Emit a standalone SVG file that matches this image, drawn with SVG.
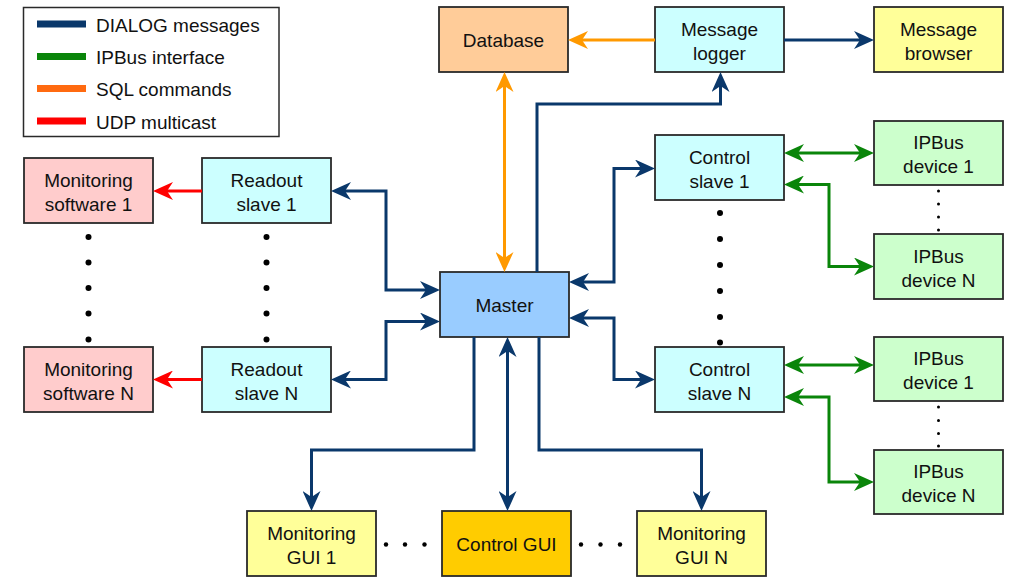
<svg xmlns="http://www.w3.org/2000/svg" width="1020" height="577" viewBox="0 0 1020 577">
  <style>
    .box { stroke: #2a2a2a; stroke-width: 1.8; }
    .lbl { font-family: "Liberation Sans", Arial, sans-serif; font-size: 19px; fill: #111; text-anchor: middle; }
    .leg { font-family: "Liberation Sans", Arial, sans-serif; font-size: 19px; fill: #111; }
    .c { fill: none; stroke-width: 3; stroke-linejoin: miter; }
    .dialog { stroke: #0a386b; }
    .ipbus { stroke: #0a850a; }
    .sql { stroke: #ff9900; }
    .udp { stroke: #ff0000; }
    .dot { fill: #000; }
    .sw { fill: #ffcccc; }
    .slave { fill: #ccffff; }
    .gui { fill: #ffff99; }
    .dev { fill: #ccffcc; }
  </style>
  <defs>
    <marker id="ah-dialog" viewBox="0 0 20 18" markerWidth="20" markerHeight="18" refX="10" refY="9" orient="auto-start-reverse" markerUnits="userSpaceOnUse">
      <path d="M0,0 L20,9 L0,18 L6,9 Z" fill="#0a386b"/>
    </marker>
    <marker id="ah-ipbus" viewBox="0 0 20 18" markerWidth="20" markerHeight="18" refX="10" refY="9" orient="auto-start-reverse" markerUnits="userSpaceOnUse">
      <path d="M0,0 L20,9 L0,18 L6,9 Z" fill="#0a850a"/>
    </marker>
    <marker id="ah-sql" viewBox="0 0 20 18" markerWidth="20" markerHeight="18" refX="10" refY="9" orient="auto-start-reverse" markerUnits="userSpaceOnUse">
      <path d="M0,0 L20,9 L0,18 L6,9 Z" fill="#ff9900"/>
    </marker>
    <marker id="ah-udp" viewBox="0 0 20 18" markerWidth="20" markerHeight="18" refX="10" refY="9" orient="auto-start-reverse" markerUnits="userSpaceOnUse">
      <path d="M0,0 L20,9 L0,18 L6,9 Z" fill="#ff0000"/>
    </marker>
  </defs>

  <rect width="1020" height="577" fill="#ffffff"/>

  <!-- Legend -->
  <g id="legend">
    <rect x="23.5" y="7.5" width="255.5" height="129" fill="#ffffff" stroke="#2a2a2a" stroke-width="1.5"/>
    <line x1="37" y1="24" x2="86" y2="24" stroke="#0a386b" stroke-width="7"/>
    <line x1="37" y1="56.5" x2="86" y2="56.5" stroke="#0a850a" stroke-width="7"/>
    <line x1="37" y1="88.5" x2="86" y2="88.5" stroke="#ff6a10" stroke-width="7"/>
    <line x1="37" y1="121" x2="86" y2="121" stroke="#ff0000" stroke-width="7"/>
    <text class="leg" x="96" y="31.5">DIALOG messages</text>
    <text class="leg" x="96" y="64">IPBus interface</text>
    <text class="leg" x="96" y="96">SQL commands</text>
    <text class="leg" x="96" y="128.5">UDP multicast</text>
  </g>

  <!-- Top row -->
  <g id="database">
    <rect class="box" x="439" y="7" width="129" height="65" fill="#ffcc99"/>
    <text class="lbl" x="503.5" y="46.5">Database</text>
  </g>
  <g id="message-logger">
    <rect class="box slave" x="655" y="7" width="129" height="65"/>
    <text class="lbl" x="719.5" y="35.5">Message</text>
    <text class="lbl" x="719.5" y="59.5">logger</text>
  </g>
  <g id="message-browser">
    <rect class="box gui" x="874" y="7" width="129" height="65"/>
    <text class="lbl" x="938.5" y="35.5">Message</text>
    <text class="lbl" x="938.5" y="59.5">browser</text>
  </g>

  <!-- Monitoring software -->
  <g id="monitoring-software-1">
    <rect class="box sw" x="24" y="158" width="129" height="65"/>
    <text class="lbl" x="88.5" y="186.5">Monitoring</text>
    <text class="lbl" x="88.5" y="210.5">software 1</text>
  </g>
  <g id="monitoring-software-n">
    <rect class="box sw" x="24" y="347" width="129" height="65"/>
    <text class="lbl" x="88.5" y="375.5">Monitoring</text>
    <text class="lbl" x="88.5" y="399.5">software N</text>
  </g>

  <!-- Readout slaves -->
  <g id="readout-slave-1">
    <rect class="box slave" x="202" y="158" width="129" height="65"/>
    <text class="lbl" x="266.5" y="186.5">Readout</text>
    <text class="lbl" x="266.5" y="210.5">slave 1</text>
  </g>
  <g id="readout-slave-n">
    <rect class="box slave" x="202" y="347" width="129" height="65"/>
    <text class="lbl" x="266.5" y="375.5">Readout</text>
    <text class="lbl" x="266.5" y="399.5">slave N</text>
  </g>

  <!-- Master -->
  <g id="master">
    <rect class="box" x="440" y="272" width="129" height="65" fill="#99ccff"/>
    <text class="lbl" x="504.5" y="311.5">Master</text>
  </g>

  <!-- Control slaves -->
  <g id="control-slave-1">
    <rect class="box slave" x="655" y="135" width="129" height="65"/>
    <text class="lbl" x="719.5" y="163.5">Control</text>
    <text class="lbl" x="719.5" y="187.5">slave 1</text>
  </g>
  <g id="control-slave-n">
    <rect class="box slave" x="655" y="347" width="129" height="65"/>
    <text class="lbl" x="719.5" y="375.5">Control</text>
    <text class="lbl" x="719.5" y="399.5">slave N</text>
  </g>

  <!-- IPBus devices -->
  <g id="ipbus-device-1a">
    <rect class="box dev" x="874" y="121" width="129" height="64"/>
    <text class="lbl" x="938.5" y="149">IPBus</text>
    <text class="lbl" x="938.5" y="173">device 1</text>
  </g>
  <g id="ipbus-device-na">
    <rect class="box dev" x="874" y="234" width="129" height="65"/>
    <text class="lbl" x="938.5" y="262.5">IPBus</text>
    <text class="lbl" x="938.5" y="286.5">device N</text>
  </g>
  <g id="ipbus-device-1b">
    <rect class="box dev" x="874" y="337" width="129" height="64"/>
    <text class="lbl" x="938.5" y="365">IPBus</text>
    <text class="lbl" x="938.5" y="389">device 1</text>
  </g>
  <g id="ipbus-device-nb">
    <rect class="box dev" x="874" y="450" width="129" height="64"/>
    <text class="lbl" x="938.5" y="478">IPBus</text>
    <text class="lbl" x="938.5" y="502">device N</text>
  </g>

  <!-- GUIs -->
  <g id="monitoring-gui-1">
    <rect class="box gui" x="247" y="511" width="129" height="65"/>
    <text class="lbl" x="311.5" y="539.5">Monitoring</text>
    <text class="lbl" x="311.5" y="563.5">GUI 1</text>
  </g>
  <g id="control-gui">
    <rect class="box" x="442" y="511" width="129" height="65" fill="#ffcc00"/>
    <text class="lbl" x="506.5" y="550.5">Control GUI</text>
  </g>
  <g id="monitoring-gui-n">
    <rect class="box gui" x="637" y="511" width="129" height="65"/>
    <text class="lbl" x="701.5" y="539.5">Monitoring</text>
    <text class="lbl" x="701.5" y="563.5">GUI N</text>
  </g>

  <!-- Ellipsis dots between repeated nodes -->
  <g id="ellipses">
    <circle class="dot" cx="88.5" cy="237" r="3"/>
    <circle class="dot" cx="88.5" cy="262.5" r="3"/>
    <circle class="dot" cx="88.5" cy="288" r="3"/>
    <circle class="dot" cx="88.5" cy="313.5" r="3"/>
    <circle class="dot" cx="88.5" cy="339.5" r="3"/>
    <circle class="dot" cx="266.5" cy="237" r="3"/>
    <circle class="dot" cx="266.5" cy="262.5" r="3"/>
    <circle class="dot" cx="266.5" cy="288" r="3"/>
    <circle class="dot" cx="266.5" cy="313.5" r="3"/>
    <circle class="dot" cx="266.5" cy="339.5" r="3"/>
    <circle class="dot" cx="720" cy="213" r="3"/>
    <circle class="dot" cx="720" cy="239" r="3"/>
    <circle class="dot" cx="720" cy="265" r="3"/>
    <circle class="dot" cx="720" cy="291" r="3"/>
    <circle class="dot" cx="720" cy="317" r="3"/>
    <circle class="dot" cx="720" cy="342.5" r="3"/>
    <circle class="dot" cx="938.5" cy="191" r="1.5"/>
    <circle class="dot" cx="938.5" cy="204" r="1.5"/>
    <circle class="dot" cx="938.5" cy="217" r="1.5"/>
    <circle class="dot" cx="938.5" cy="230" r="1.5"/>
    <circle class="dot" cx="938.5" cy="407" r="1.5"/>
    <circle class="dot" cx="938.5" cy="420.5" r="1.5"/>
    <circle class="dot" cx="938.5" cy="433.5" r="1.5"/>
    <circle class="dot" cx="938.5" cy="446" r="1.5"/>
    <circle class="dot" cx="386" cy="544.5" r="2.2"/>
    <circle class="dot" cx="405" cy="544.5" r="2.2"/>
    <circle class="dot" cx="424.5" cy="544.5" r="2.2"/>
    <circle class="dot" cx="581" cy="544.5" r="2.2"/>
    <circle class="dot" cx="600.5" cy="544.5" r="2.2"/>
    <circle class="dot" cx="620" cy="544.5" r="2.2"/>
  </g>

  <!-- Connectors -->
  <g id="connectors">
    <!-- DIALOG messages -->
    <path class="c dialog" d="M430,290 H386 V191 H341" marker-start="url(#ah-dialog)" marker-end="url(#ah-dialog)"/>
    <path class="c dialog" d="M430,321.5 H386 V379.5 H341" marker-start="url(#ah-dialog)" marker-end="url(#ah-dialog)"/>
    <path class="c dialog" d="M579,282 H614 V168.5 H645" marker-start="url(#ah-dialog)" marker-end="url(#ah-dialog)"/>
    <path class="c dialog" d="M579,318 H614 V379.5 H645" marker-start="url(#ah-dialog)" marker-end="url(#ah-dialog)"/>
    <path class="c dialog" d="M537,272 V104 H720.5 V82" marker-end="url(#ah-dialog)"/>
    <path class="c dialog" d="M784,40 H864" marker-end="url(#ah-dialog)"/>
    <path class="c dialog" d="M474,337 V450 H311.5 V501" marker-end="url(#ah-dialog)"/>
    <path class="c dialog" d="M507.5,347 V501" marker-start="url(#ah-dialog)" marker-end="url(#ah-dialog)"/>
    <path class="c dialog" d="M539,337 V450 H701.5 V501" marker-end="url(#ah-dialog)"/>
    <!-- SQL commands -->
    <path class="c sql" d="M655,40 H578" marker-end="url(#ah-sql)"/>
    <path class="c sql" d="M504.5,82 V262" marker-start="url(#ah-sql)" marker-end="url(#ah-sql)"/>
    <!-- UDP multicast -->
    <path class="c udp" d="M202,191 H163" marker-end="url(#ah-udp)"/>
    <path class="c udp" d="M202,379.5 H163" marker-end="url(#ah-udp)"/>
    <!-- IPBus interface -->
    <path class="c ipbus" d="M794,153 H864" marker-start="url(#ah-ipbus)" marker-end="url(#ah-ipbus)"/>
    <path class="c ipbus" d="M794,184.5 H829 V266.5 H864" marker-start="url(#ah-ipbus)" marker-end="url(#ah-ipbus)"/>
    <path class="c ipbus" d="M794,365 H864" marker-start="url(#ah-ipbus)" marker-end="url(#ah-ipbus)"/>
    <path class="c ipbus" d="M794,397 H829 V482 H864" marker-start="url(#ah-ipbus)" marker-end="url(#ah-ipbus)"/>
  </g>
</svg>
